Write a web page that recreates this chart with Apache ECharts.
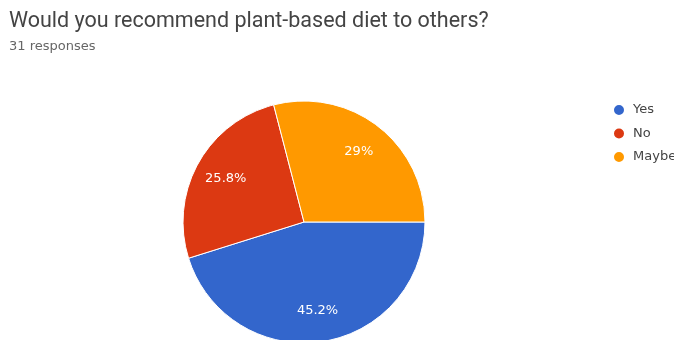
<!DOCTYPE html>
<html>
<head>
<meta charset="utf-8">
<script src="https://cdn.jsdelivr.net/npm/echarts@6/dist/echarts.min.js"></script>
<style>
    html, body { margin: 0; padding: 0; background: #fff; }
    #chart { width: 674px; height: 340px; }
</style>
</head>
<body>
<div id="chart"></div>
<script>
    // answers and counts (31 responses)
    const answers = ['Yes', 'No', 'Maybe']
    const counts = [14, 8, 9]
    const colors = ['#3366cc', '#dc3912', '#ff9900']

    const pieData = answers.map((name, i) => ({ name: name, value: counts[i] }))

    const chart = echarts.init(document.getElementById('chart'))

    const option = {
        animation: false,
        color: colors,
        title: {
            text: 'Would you recommend plant-based diet to others?',
            subtext: '31 responses',
            left: 4,
            top: 6,
            itemGap: 7,
            textStyle: { fontFamily: 'Roboto', fontSize: 21.5, fontWeight: 'normal', color: '#444' },
            subtextStyle: { fontFamily: 'DejaVu Sans', fontSize: 13, color: '#666' }
        },
        legend: {
            orient: 'vertical',
            left: 607,
            top: 98,
            icon: 'circle',
            itemWidth: 12,
            itemHeight: 12,
            itemGap: 9.5,
            textStyle: { fontFamily: 'DejaVu Sans', fontSize: 13, color: '#444', padding: [0, 0, 0, 3] },
            data: answers
        },
        series: [
            {
                type: 'pie',
                center: [304, 222],
                radius: [0, 121],
                startAngle: 0,
                clockwise: true,
                label: { show: false },
                labelLine: { show: false },
                itemStyle: { borderColor: '#fff', borderWidth: 1 },
                data: pieData
            },
            {
                // only used to place the percent labels further out
                type: 'pie',
                center: [304, 222],
                radius: [52, 121],
                startAngle: 0,
                clockwise: true,
                silent: true,
                itemStyle: { color: 'transparent' },
                label: {
                    show: true,
                    position: 'inside',
                    fontFamily: 'DejaVu Sans',
                    fontSize: 13,
                    color: '#fff',
                    formatter: p => (+p.percent.toFixed(1)) + '%'
                },
                labelLine: { show: false },
                data: pieData
            }
        ]
    }

    chart.setOption(option)
</script>
</body>
</html>
